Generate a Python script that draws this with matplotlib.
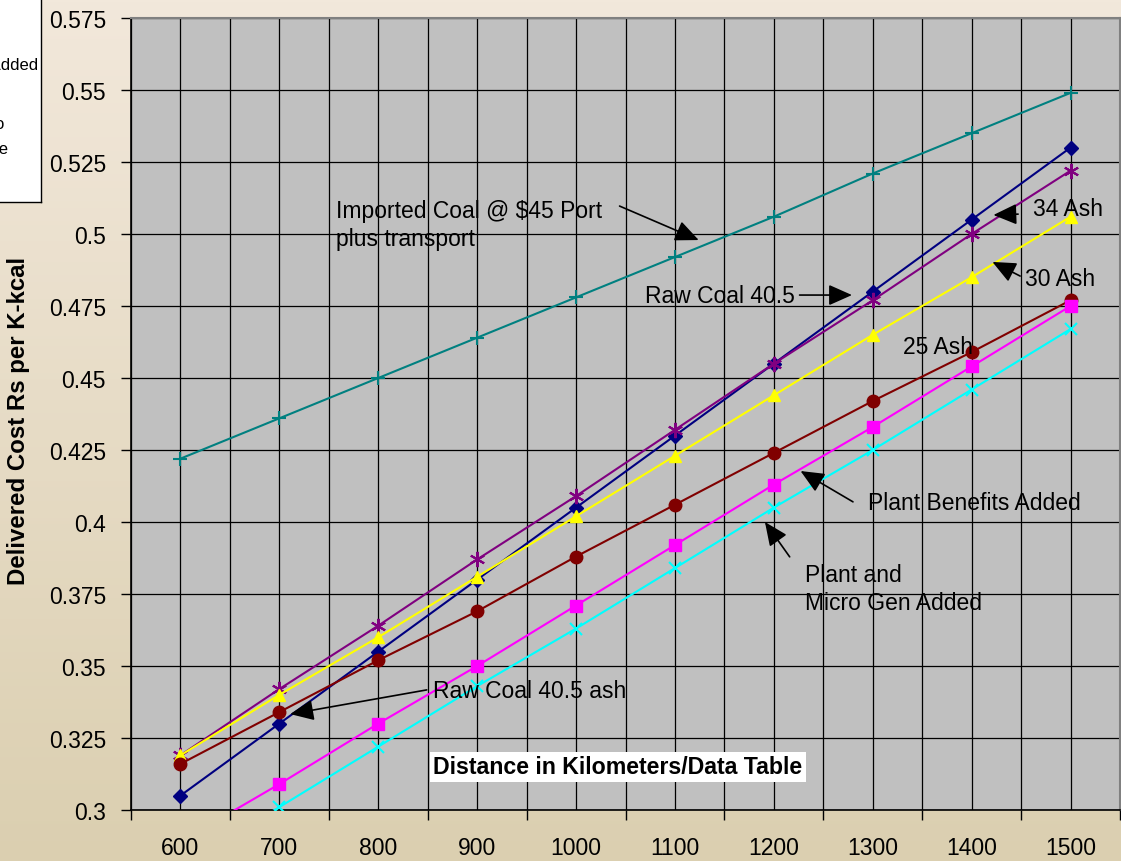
import numpy as np
import matplotlib.pyplot as plt
from matplotlib.ticker import FixedLocator

plt.rcParams['font.family'] = ['Liberation Sans', 'DejaVu Sans']

# Delivered cost (Rs per K-kcal) by transport distance (km)
distances = [600, 700, 800, 900, 1000, 1100, 1200, 1300, 1400, 1500]
raw_coal = [0.305, 0.330, 0.355, 0.380, 0.405, 0.430, 0.455, 0.480, 0.505, 0.530]
ash_34 = [0.319, 0.342, 0.364, 0.387, 0.409, 0.432, 0.455, 0.477, 0.500, 0.522]
ash_30 = [0.319, 0.340, 0.360, 0.381, 0.402, 0.423, 0.444, 0.465, 0.485, 0.506]
ash_25 = [0.316, 0.334, 0.352, 0.369, 0.388, 0.406, 0.424, 0.442, 0.459, 0.477]
plant_benefits = [0.289, 0.309, 0.330, 0.350, 0.371, 0.392, 0.413, 0.433, 0.454, 0.475]
micro_gen = [0.281, 0.301, 0.322, 0.343, 0.363, 0.384, 0.405, 0.425, 0.446, 0.467]
imported = [0.422, 0.436, 0.450, 0.464, 0.478, 0.492, 0.506, 0.521, 0.535, 0.549]

y_ticks = [0.3, 0.325, 0.35, 0.375, 0.4, 0.425, 0.45, 0.475, 0.5, 0.525, 0.55, 0.575]
y_tick_labels = ['0.3', '0.325', '0.35', '0.375', '0.4', '0.425', '0.45', '0.475',
                 '0.5', '0.525', '0.55', '0.575']

fig = plt.figure(figsize=(11.21, 8.62), dpi=100)

# beige gradient behind everything
bg = fig.add_axes([0, 0, 1, 1], zorder=-10)
top = np.array([242, 232, 219]) / 255
bottom = np.array([219, 207, 176]) / 255
t = np.linspace(0, 1, 256)[:, None]
grad = top * (1 - t) + bottom * t
bg.imshow(grad[:, None, :].repeat(2, axis=1), aspect='auto', extent=[0, 1, 0, 1])
bg.axis('off')

ax = fig.add_axes([131 / 1121, 1 - 811 / 862, 989 / 1121, 792 / 862])
ax.set_facecolor('#C0C0C0')

lw = 1.5
ax.plot(distances, raw_coal, color='#000080', lw=lw, marker='D', ms=7.5, zorder=3)
ax.plot(distances, ash_34, color='#800080', lw=lw, marker=(6, 2, 0), ms=11, mew=1.5, zorder=3)
ax.plot(distances, ash_30, color='#FFFF00', lw=lw, marker='^', ms=9, zorder=3)
ax.plot(distances, ash_25, color='#800000', lw=lw, marker='o', ms=9, zorder=3)
ax.plot(distances, plant_benefits, color='#FF00FF', lw=lw, marker='s', ms=8.5, zorder=3)
ax.plot(distances, micro_gen, color='#00FFFF', lw=lw, marker='x', ms=8, mew=1.5, zorder=3)
ax.plot(distances, imported, color='#008080', lw=lw, marker='+', ms=10, mew=1.5, zorder=3)

ax.set_xlim(550, 1550)
ax.set_ylim(0.3, 0.575)

# categories sit between the boundary ticks
ax.xaxis.set_major_locator(FixedLocator(distances))
ax.xaxis.set_minor_locator(FixedLocator([d - 50 for d in distances] + [1550]))
ax.set_xticklabels([str(d) for d in distances])
ax.tick_params(axis='x', which='major', length=0, pad=19, labelsize=16.5)
ax.tick_params(axis='x', which='minor', length=7, width=1, color='black')
ax.set_yticks(y_ticks)
ax.set_yticklabels(y_tick_labels)
ax.tick_params(axis='y', length=7, width=1, pad=11, labelsize=16.5)

ax.grid(which='both', axis='x', color='black', lw=0.9)
ax.grid(which='major', axis='y', color='black', lw=0.9)
ax.set_axisbelow(True)

for side in ['left', 'bottom']:
    ax.spines[side].set_color('black')
    ax.spines[side].set_linewidth(1.2)
for side in ['top', 'right']:
    ax.spines[side].set_color('#808080')
    ax.spines[side].set_linewidth(1.5)

ax.set_ylabel('Delivered Cost Rs per K-kcal', fontsize=17.3, fontweight='bold')
ax.yaxis.set_label_coords(-0.102, 0.4924)

# labels and pointer arrows
arrow = dict(arrowstyle='-|>,head_length=0.9,head_width=0.4', color='black',
             lw=1.2, mutation_scale=16, shrinkA=0, shrinkB=0)
fs = 16.5

ax.text(757, 0.5033, 'Imported Coal @ $45 Port\nplus transport', fontsize=fs,
        va='center', ha='left', linespacing=1.25)
ax.annotate('', xy=(1124, 0.4979), xytext=(1044, 0.5097), arrowprops=arrow)

ax.text(1070, 0.4788, 'Raw Coal 40.5', fontsize=fs, va='center', ha='left')
ax.annotate('', xy=(1279, 0.4788), xytext=(1226, 0.4788), arrowprops=arrow)

ax.text(1462, 0.5087, '34 Ash', fontsize=fs, va='center', ha='left')
ax.annotate('', xy=(1422, 0.5066), xytext=(1447, 0.5069), arrowprops=arrow)

ax.text(1454, 0.4847, '30 Ash', fontsize=fs, va='center', ha='left')
ax.annotate('', xy=(1421, 0.4903), xytext=(1449, 0.4854), arrowprops=arrow)

ax.text(1331, 0.4611, '25 Ash', fontsize=fs, va='center', ha='left')

ax.text(1295, 0.4066, 'Plant Benefits Added', fontsize=fs, va='center', ha='left')
ax.annotate('', xy=(1227, 0.4177), xytext=(1280, 0.4070), arrowprops=arrow)

ax.text(1232, 0.3769, 'Plant and\nMicro Gen Added', fontsize=fs, va='center',
        ha='left', linespacing=1.25)
ax.annotate('', xy=(1191, 0.4000), xytext=(1216, 0.3879), arrowprops=arrow)

ax.text(855, 0.3414, 'Raw Coal 40.5 ash', fontsize=fs, va='center', ha='left')
ax.annotate('', xy=(711, 0.3333), xytext=(849, 0.3417), arrowprops=arrow)

ax.text(1042, 0.3150, 'Distance in Kilometers/Data Table', fontsize=16.7,
        fontweight='bold', va='center', ha='center', zorder=5,
        bbox=dict(facecolor='white', edgecolor='none', pad=2.5))

# legend box running off the left edge
leg = fig.add_axes([0, 1 - 203 / 862, 41 / 1121, 203 / 862], zorder=2)
leg.set_facecolor('white')
leg.set_xticks([])
leg.set_yticks([])
for side in ['top', 'left']:
    leg.spines[side].set_visible(False)
for side in ['right', 'bottom']:
    leg.spines[side].set_linewidth(1)
fig.text(38 / 1121, 1 - 66 / 862, 'Plant Benefits Added', fontsize=12, ha='right', va='center')
fig.text(4 / 1121, 1 - 125 / 862, 'Plant and Micro', fontsize=12, ha='right', va='center')
fig.text(8 / 1121, 1 - 149 / 862, 'Gen Added to Base', fontsize=12, ha='right', va='center')

fig.savefig('out.png', dpi=100)
